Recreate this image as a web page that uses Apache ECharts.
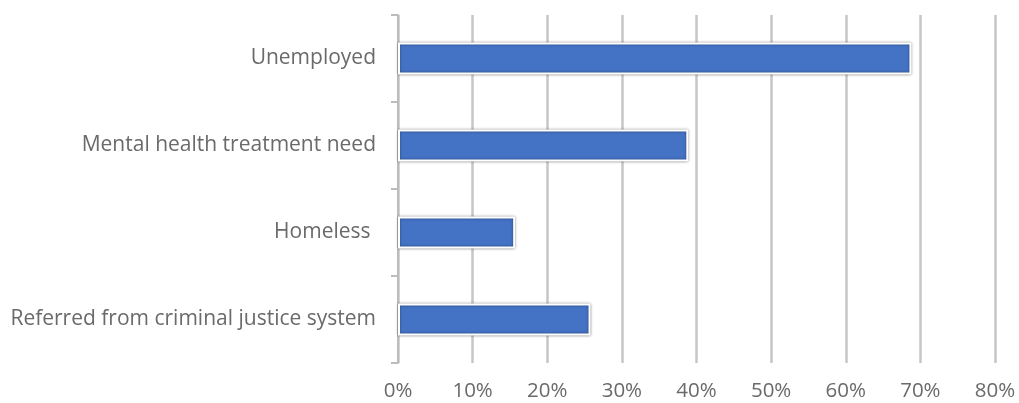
<!DOCTYPE html>
<html><head><meta charset="utf-8">
<script src="https://cdn.jsdelivr.net/npm/echarts@6/dist/echarts.min.js"></script>
<style>html,body{margin:0;padding:0;background:#fff}#c{width:1019px;height:403px}</style>
</head><body><div id="c"></div>
<script>
const categories = ['Unemployed', 'Mental health treatment need', 'Homeless ', 'Referred from criminal justice system'];
const values = [68.8, 38.9, 15.7, 25.8];
const xTicks = [0, 10, 20, 30, 40, 50, 60, 70, 80];

const chart = echarts.init(document.getElementById('c'));
chart.setOption({
  animation: false,
  grid: { left: 398, right: 24, top: 15, bottom: 40 },
  xAxis: {
    type: 'value', min: xTicks[0], max: xTicks[xTicks.length - 1], interval: 10,
    axisLine: { show: false }, axisTick: { show: false },
    axisLabel: { formatter: '{value}%', color: '#6a6a6a', fontSize: 20.5, fontFamily: 'Open Sans', margin: 18 },
    splitLine: { show: true, lineStyle: { color: '#c6c6c6', width: 2.5 } }
  },
  yAxis: {
    type: 'category', data: categories, inverse: true,
    axisLine: { show: true, onZero: false, lineStyle: { color: '#bcbcbc', width: 2 } },
    axisTick: { show: true, length: 7, lineStyle: { color: '#bcbcbc', width: 2 } },
    axisLabel: { color: '#6a6a6a', fontSize: 21, fontFamily: 'Open Sans', margin: 22 }
  },
  series: [{
    type: 'bar', data: values, barWidth: 32,
    itemStyle: { color: '#4472C4', borderColor: '#ffffff', borderWidth: 2,
      shadowColor: 'rgba(0,0,0,0.45)', shadowBlur: 2.5 }
  }]
});
</script></body></html>
